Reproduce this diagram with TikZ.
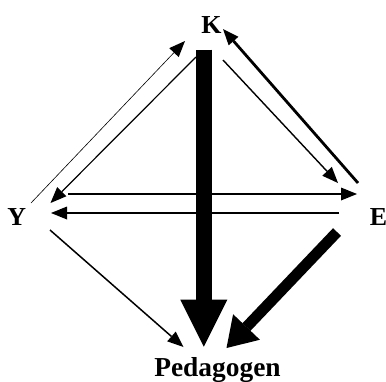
\documentclass[tikz,border=0pt]{standalone}
\usepackage{fontspec}
\setmainfont{Liberation Serif}
\usetikzlibrary{arrows.meta}
\begin{document}
\begin{tikzpicture}[x=1bp,y=-1bp,
  lbl/.style={font=\fontsize{26}{26}\selectfont\bfseries, inner sep=0pt, anchor=base},
  thinarr/.style={-{Triangle[length=16bp,width=13bp,line width=0pt]}, line cap=butt},
  bigarr/.style={-{Triangle[length=47bp,width=47bp,line width=0pt]}, line width=16bp, line cap=butt},
  medarr/.style={-{Triangle[length=29bp,width=37bp,line width=0pt]}, line width=11bp, line cap=butt}]
\useasboundingbox (0,0) rectangle (386,382);
\node[lbl] (K) at (211.5,33.3) {K};
\node[lbl] (Y) at (16.7,225) {Y};
\node[lbl] (E) at (378.5,225) {E};
\node[lbl, font=\fontsize{27.5}{27.5}\selectfont\bfseries] (P) at (217.5,376) {Pedagogen};
% endpoints
\coordinate (yk1) at (31,203);   \coordinate (yk2) at (185,41);
\coordinate (ky1) at (196,57);   \coordinate (ky2) at (50.5,203);
\coordinate (ke1) at (223,60);   \coordinate (ke2) at (338,183);
\coordinate (ek1) at (358,183);  \coordinate (ek2) at (223,29);
\coordinate (ye1) at (68,194);   \coordinate (ye2) at (357,194);
\coordinate (ey1) at (339,213);  \coordinate (ey2) at (51,213);
\coordinate (yp1) at (50,230);   \coordinate (yp2) at (183.5,347);
\coordinate (kp1) at (203.8,49.5); \coordinate (kp2) at (203.8,346.7);
\coordinate (ep1) at (337,232);  \coordinate (ep2) at (226.5,348);
\draw[thinarr, line width=0.6bp] (yk1) -- (yk2);
\draw[thinarr, line width=1.2bp] (ky1) -- (ky2);
\draw[thinarr, line width=1.4bp] (ke1) -- (ke2);
\draw[thinarr, line width=2.8bp] (ek1) -- (ek2);
\draw[thinarr, line width=1.1bp] (ye1) -- (ye2);
\draw[thinarr, line width=1.6bp] (ey1) -- (ey2);
\draw[thinarr, line width=1.5bp] (yp1) -- (yp2);
\draw[bigarr] (kp1) -- (kp2);
\draw[medarr] (ep1) -- (ep2);
\end{tikzpicture}
\end{document}
